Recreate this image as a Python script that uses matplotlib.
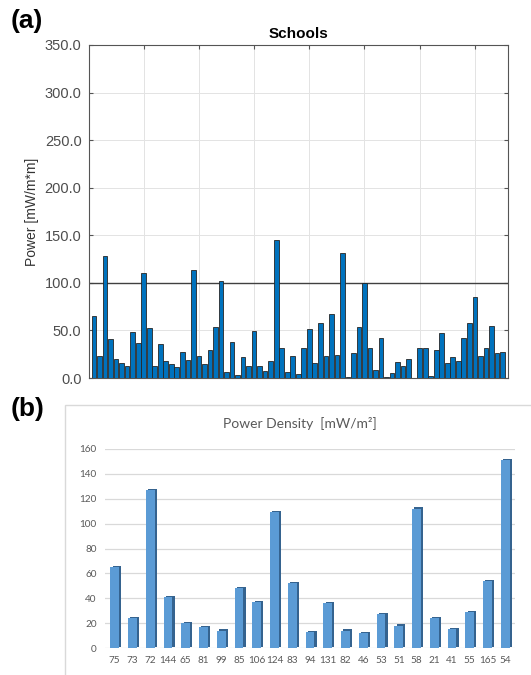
import numpy as np
import matplotlib
matplotlib.use("Agg")
import matplotlib.pyplot as plt
from matplotlib.patches import Rectangle
from matplotlib.patheffects import SimplePatchShadow, Normal

plt.rcParams["font.family"] = ["Liberation Sans", "DejaVu Sans"]

# panel (a): power per school
school_power = [65.6, 23.4, 128.7, 40.8, 19.5, 16.0, 13.1, 48.6, 37.2, 110.6,
                52.5, 13.1, 36.2, 17.4, 14.2, 12.0, 27.3, 18.4, 113.5, 23.4,
                14.5, 29.4, 53.9, 102.0, 6.4, 38.3, 3.2, 21.6, 13.1, 49.3,
                13.1, 7.1, 17.4, 145.0, 31.9, 6.4, 23.0, 4.6, 31.9, 51.4,
                16.0, 57.8, 22.7, 67.4, 23.8, 131.2, 1.0, 26.6, 53.9, 99.6,
                31.2, 8.9, 41.8, 1.0, 5.7, 16.7, 12.4, 20.2, 0.4, 31.2,
                31.2, 2.1, 29.4, 47.2, 16.0, 21.6, 18.1, 42.2, 58.2, 85.1,
                23.0, 31.2, 54.6, 26.6, 27.0]

# panel (b): power density per site
site_labels = ["75", "73", "72", "144", "65", "81", "99", "85", "106", "124",
               "83", "94", "131", "82", "46", "53", "51", "58", "21", "41",
               "55", "165", "54"]
site_density = [65, 24, 127, 41, 20, 17, 14, 48, 37, 109,
                52, 13, 36, 14, 12, 27, 18, 112, 24, 15,
                29, 54, 151]

W, H = 531, 675


def main():
    fig = plt.figure(figsize=(W / 100, H / 100), dpi=100)
    fig.patch.set_facecolor("white")

    # ---- (a) ----
    ax1 = fig.add_axes([88.5 / W, 1 - 378 / H, (508 - 88.5) / W, (378 - 45) / H])
    x = np.arange(1, len(school_power) + 1)
    ax1.bar(x, school_power, width=0.85, color="#0072BD",
            edgecolor="#262626", linewidth=0.6, zorder=3)
    ax1.set_xlim(0, 76)
    ax1.set_ylim(0, 350)
    ax1.set_yticks(np.arange(0, 351, 50))
    ax1.yaxis.set_major_formatter("{x:.1f}")
    ax1.set_xticks(np.arange(10, 71, 10))
    ax1.set_xticklabels([])
    ax1.grid(color="#e3e3e3", linewidth=0.7, zorder=0)
    ax1.axhline(100, color="#404040", linewidth=1.0, zorder=2)
    ax1.tick_params(direction="in", top=True, right=True, length=3,
                    color="#555555", labelcolor="#4d4d4d", labelsize=10.5, pad=5)
    for s in ax1.spines.values():
        s.set_color("#555555")
        s.set_linewidth(0.8)
    ax1.set_ylabel("Power [mW/m*m]", fontsize=10, color="#333333", labelpad=4)
    ax1.set_title("Schools", fontsize=11, fontweight="bold", pad=5)

    fig.text(11 / W, 1 - 21 / H, "(a)", fontsize=19, fontweight="bold", va="center")

    # ---- (b) ----
    fig.patches.append(Rectangle((65 / W, -0.1), 1.0, (1 - 405 / H) + 0.1,
                                 transform=fig.transFigure, fill=False,
                                 edgecolor="#d9d9d9", linewidth=1.0))
    fig.text(11 / W, 1 - 409 / H, "(b)", fontsize=19, fontweight="bold", va="center")

    ax2 = fig.add_axes([105 / W, 1 - 648 / H, (515 - 105) / W, (648 - 449) / H])
    xb = np.arange(len(site_labels))
    bars = ax2.bar(xb, site_density, width=0.5, color="#5B9BD5",
                   edgecolor="none", zorder=3)
    for b in bars:
        b.set_path_effects([SimplePatchShadow(offset=(1.6, 0.9),
                                              shadow_rgbFace="#35638f", alpha=1.0),
                            Normal()])
    ax2.set_xlim(-0.55, len(site_labels) - 0.45)
    ax2.set_ylim(0, 160)
    ax2.set_yticks(np.arange(0, 161, 20))
    ax2.set_xticks(xb)
    ax2.set_xticklabels(site_labels)
    ax2.grid(axis="y", color="#d9d9d9", linewidth=0.9, zorder=0)
    ax2.tick_params(length=0, labelcolor="#595959", labelsize=7.2, pad=6)
    for lab in ax2.get_xticklabels() + ax2.get_yticklabels():
        lab.set_fontfamily("Lato")
    for s in ax2.spines.values():
        s.set_visible(False)
    fig.text(300 / W, 1 - 423 / H, "Power Density  [mW/m²]", ha="center",
             va="center", fontsize=10, color="#595959", family="Lato")

    fig.savefig("out.png", dpi=100)


if __name__ == "__main__":
    main()
